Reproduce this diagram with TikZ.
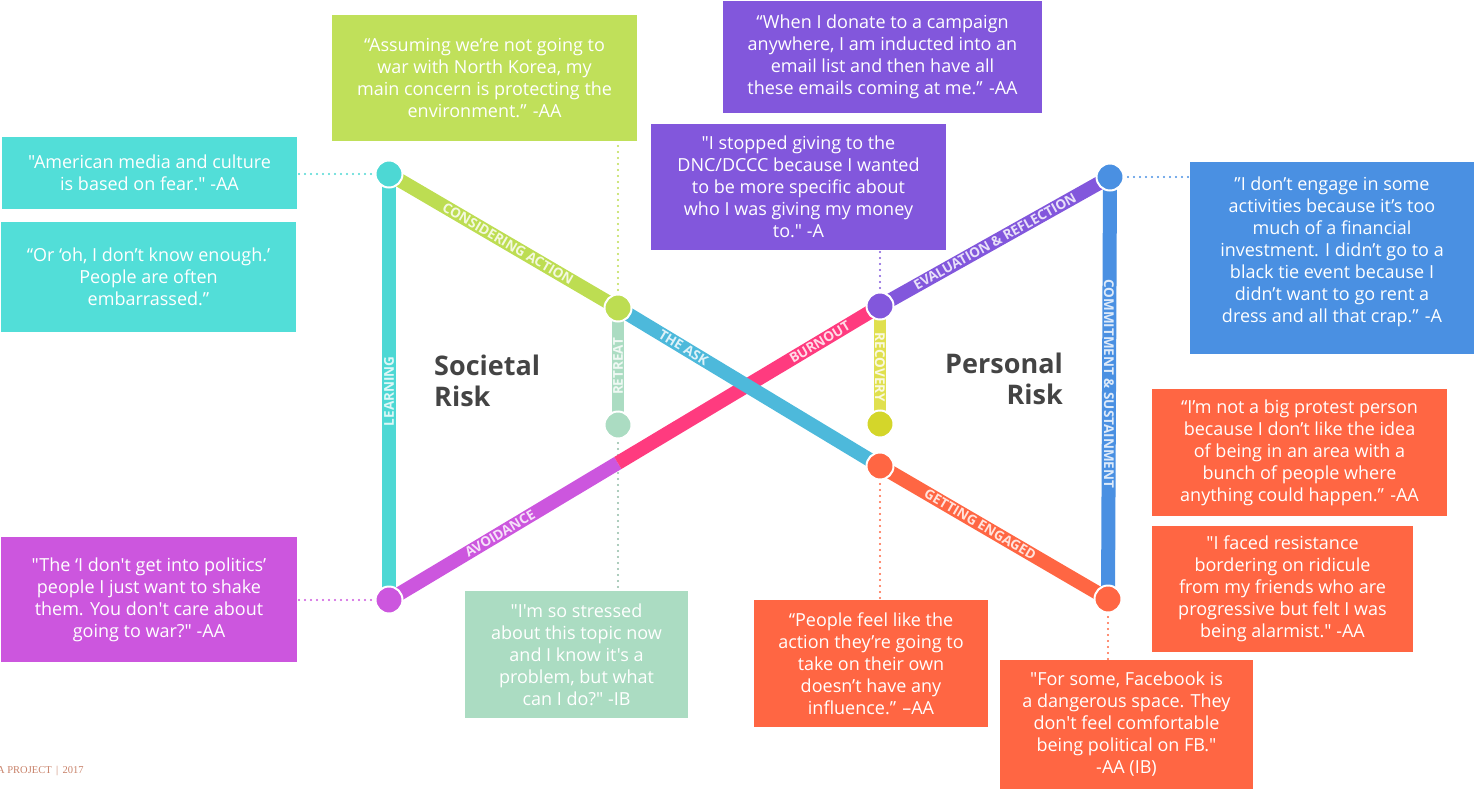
\documentclass[tikz,border=0pt]{standalone}
\usepackage{fontspec}
\setmainfont{Open Sans}
\newfontfamily\myopen{Open Sans}
\newfontfamily\myfootfont{Liberation Serif}
\usetikzlibrary{calc}
\pgfdeclarelayer{bg}
\pgfsetlayers{bg,main}
\definecolor{cTeal}{HTML}{52DED8}
\definecolor{cTealL}{HTML}{4DD8D4}
\definecolor{cGreen}{HTML}{C0E05A}
\definecolor{cGreenL}{HTML}{BDDD52}
\definecolor{cPurple}{HTML}{8257DC}
\definecolor{cBlue}{HTML}{4A90E2}
\definecolor{cOrange}{HTML}{FF6643}
\definecolor{cMint}{HTML}{ABDCC2}
\definecolor{cMagenta}{HTML}{CC56DE}
\definecolor{cPink}{HTML}{FF3B7F}
\definecolor{cAsk}{HTML}{4DB9DB}
\definecolor{cYellow}{HTML}{D4D62A}
\definecolor{cYellowL}{HTML}{E0E04E}
\definecolor{cTitle}{HTML}{444444}
\definecolor{cFoot}{HTML}{C8826A}
\newcommand\myqfont{\myopen\fontsize{18}{22}\selectfont}
\tikzset{
  quote/.style={rectangle, inner sep=0pt, align=center, text=white, font=\myqfont},
  stop/.style={circle, minimum size=27pt, inner sep=0pt, draw=white, line width=2pt},
  route/.style={line width=14pt},
  side/.style={line width=12pt},
  lab/.style={text=white, text opacity=0.82, font=\fontsize{13.5}{13.5}\selectfont\bfseries, inner sep=0pt},
  dots/.style={line width=2.2pt, dash pattern=on 0pt off 6pt, line cap=round},
  title/.style={text=cTitle, font=\fontsize{27}{31}\selectfont\bfseries, inner sep=0pt}
}
\begin{document}
\begin{tikzpicture}[x=1pt,y=-1pt]
\useasboundingbox (0,0) rectangle (1474,789);

% stops
\node[stop, fill=cTealL] (A) at (389,174) {};
\node[stop, fill=cGreenL] (B) at (618,308) {};
\node[stop, fill=cMint] (C) at (618,425) {};
\node[stop, fill=cMagenta] (D) at (389,600) {};
\node[stop, fill=cPurple] (E) at (880,306) {};
\node[stop, fill=cYellow] (F) at (880,424) {};
\node[stop, fill=cOrange] (G) at (880,466) {};
\node[stop, fill=cBlue] (H) at (1110,177) {};
\node[stop, fill=cOrange] (I) at (1108,599) {};

% quote boxes
\node[quote, fill=cTeal, minimum width=295pt, minimum height=72pt] (b1) at (149.5,173)
  {"American media and culture\\is based on fear." -AA};
\node[quote, fill=cTeal, minimum width=295pt, minimum height=110pt] (b2) at (148.5,277)
  {“Or ‘oh, I don’t know enough.’\\People are often\\embarrassed.”};
\node[quote, fill=cGreen, minimum width=305pt, minimum height=126pt] (b3) at (484.5,78)
  {“Assuming we’re not going to\\war with North Korea, my\\main concern is protecting the\\environment.” -AA};
\node[quote, fill=cPurple, minimum width=319pt, minimum height=112pt] (b4) at (882.5,57)
  {“When I donate to a campaign\\anywhere, I am inducted into an\\email list and then have all\\these emails coming at me.” -AA};
\node[quote, fill=cPurple, minimum width=295pt, minimum height=126pt] (b5) at (798.5,187)
  {"I stopped giving to the\\DNC/DCCC because I wanted\\to be more specific about\\who I was giving my money\\to." -A};
\node[rectangle, inner sep=0pt, fill=cBlue, minimum width=284pt, minimum height=192pt] (b6) at (1332,258) {};
\node[quote] (t6) at (1332,252)
  {”I don’t engage in some\\activities because it’s too\\much of a financial\\investment. I didn’t go to a\\black tie event because I\\didn’t want to go rent a\\dress and all that crap.” -A};
\node[quote, fill=cOrange, minimum width=295pt, minimum height=127pt] (b7) at (1299.5,452.5)
  {“I’m not a big protest person\\because I don’t like the idea\\of being in an area with a\\bunch of people where\\anything could happen.” -AA};
\node[quote, fill=cOrange, minimum width=261pt, minimum height=126pt] (b8) at (1282.5,589)
  {"I faced resistance\\bordering on ridicule\\from my friends who are\\progressive but felt I was\\being alarmist." -AA};
\node[quote, fill=cOrange, minimum width=253pt, minimum height=129pt] (b9) at (1126.5,724.5)
  {"For some, Facebook is\\a dangerous space. They\\don't feel comfortable\\being political on FB."\\-AA (IB)};
\node[quote, fill=cOrange, minimum width=234pt, minimum height=127pt] (b10) at (871,663.5)
  {“People feel like the\\action they’re going to\\take on their own\\doesn’t have any\\influence.” –AA};
\node[quote, fill=cMint, minimum width=223pt, minimum height=127pt] (b11) at (576.5,654.5)
  {"I'm so stressed\\about this topic now\\and I know it's a\\problem, but what\\can I do?" -IB};
\node[quote, fill=cMagenta, minimum width=296pt, minimum height=125pt] (b12) at (149,599.5)
  {"The ‘I don't get into politics’\\people I just want to shake\\them. You don't care about\\going to war?" -AA};

% titles
\node[title, anchor=north west, align=left] (soc) at (434,355) {Societal\\Risk};
\node[title, anchor=north east, align=right] (per) at (1063,353) {Personal\\Risk};

% footer
\node[anchor=base west, inner sep=0pt, text=cFoot, font=\myfootfont\fontsize{10.5}{10.5}\selectfont] (foot) at (-3,773) {A PROJECT \,|\, 2017};

\begin{pgfonlayer}{bg}
  % dotted connectors
  \draw[dots, cTealL] (A.center) -- (A -| b1.east);
  \draw[dots, cGreenL] (B.center) -- (B |- b3.south);
  \draw[dots, cPurple] (E.center) -- (E |- b5.south);
  \draw[dots, cBlue] (H.center) -- (H -| b6.west);
  \draw[dots, cMagenta] (D.center) -- (D -| b12.east);
  \draw[dots, cMint!85!black] (C.center) -- ([yshift=-16pt]C |- b11.north);
  \draw[dots, cOrange] (G.center) -- (G |- b10.north);
  \draw[dots, cOrange] (I.center) -- (I |- b9.north);

  % routes
  \draw[route, cTealL] (D.center) -- node[lab, pos=0.49, rotate=90] (lLearn) {LEARNING} (A.center);
  \draw[route, cGreenL] (A.center) -- node[lab, pos=0.52, sloped] (lCons) {CONSIDERING ACTION} (B.center);
  \draw[side, cMint] (C.center) -- node[lab, pos=0.5, rotate=90] (lRet) {RETREAT} (B.center);
  \draw[side, cYellowL] (E.center) -- node[lab, pos=0.52, rotate=-90] (lRec) {RECOVERY} (F.center);
  \draw[route, cPurple] (E.center) -- node[lab, pos=0.5, sloped] (lEval) {EVALUATION \& REFLECTION} (H.center);
  \draw[route, cBlue] (H.center) -- node[lab, pos=0.49, rotate=-90] (lCom) {COMMITMENT \& SUSTAINMENT} (I.center);
  \draw[route, cOrange] (G.center) -- node[lab, pos=0.44, sloped] (lGet) {GETTING ENGAGED} (I.center);
  \coordinate (X) at ($(D.center)!0.466!(E.center)$);
  \draw[route, cMagenta] (D.center) -- node[lab, pos=0.485, sloped] (lAvo) {AVOIDANCE} (X);
  \draw[route, cPink] (X) -- node[lab, pos=0.77, sloped] (lBurn) {BURNOUT} (E.center);
  \draw[route, cAsk] (B.center) -- node[lab, pos=0.25, sloped] (lAsk) {THE ASK} (G.center);
\end{pgfonlayer}
\end{tikzpicture}
\end{document}
